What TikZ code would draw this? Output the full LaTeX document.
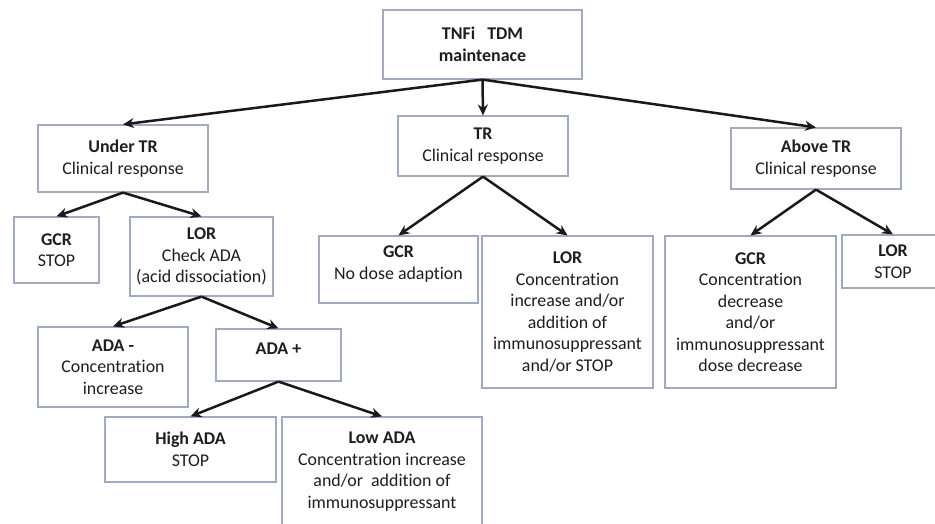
\documentclass[tikz,border=0pt]{standalone}
\usepackage{fontspec}
\setmainfont{Carlito}[Ligatures={NoCommon}]
\usetikzlibrary{arrows.meta}
\definecolor{boxline}{RGB}{160,170,192}
\definecolor{ink}{RGB}{30,30,30}

\begin{document}
\begin{tikzpicture}[x=1pt,y=-1pt,
  box/.style={draw=boxline, line width=1.2pt, fill=white, inner sep=0pt, align=center, text=ink, font=\fontsize{17.9}{21.5}\selectfont},
  arr/.style={-{Stealth[length=11pt,width=10pt]}, line width=2.5pt, black!90}]
\clip (0,0) rectangle (935,523);
% root
\node[box, minimum width=199, minimum height=69] (top) at (482.5,44.5) {\textbf{TNFi\ \ \ TDM}\\\textbf{maintenace}};
% three levels of trough response
\node[box, minimum width=170, minimum height=67] (under) at (123,158.5) {\textbf{Under TR}\\Clinical response};
\node[box, minimum width=170, minimum height=60] (tr) at (483,146) {\textbf{TR}\\Clinical response};
\node[box, minimum width=170, minimum height=61] (above) at (816,158.5) {\textbf{Above TR}\\Clinical response};
% under TR branch
\node[box, minimum width=85, minimum height=66] (ugcr) at (56.5,250) {\textbf{GCR}\\STOP};
\node[box, minimum width=143, minimum height=79] (ulor) at (201.5,256.5) {\textbf{LOR}\\Check ADA\\(acid dissociation)};
\node[box, minimum width=150, minimum height=80] (adaneg) at (113,367) {\textbf{ADA -}\\Concentration\\increase};
\node[box, minimum width=125, minimum height=52, text depth=12pt] (adapos) at (278.5,355) {\textbf{ADA +}};
\node[box, minimum width=171, minimum height=65] (highada) at (190.5,449.5) {\textbf{High ADA}\\STOP};
\node[box, minimum width=200, minimum height=109] (lowada) at (382,471.5) {\textbf{Low ADA}\\Concentration increase\\and/or\ \ addition of\\immunosuppressant};
% TR branch
\node[box, minimum width=159, minimum height=67, text depth=13.5pt] (tgcr) at (398.5,269.5) {\textbf{GCR}\\No dose adaption};
\node[box, minimum width=171, minimum height=152] (tlor) at (567.5,312) {\textbf{LOR}\\Concentration\\increase and/or\\addition of\\immunosuppressant\\and/or STOP};
% above TR branch
\node[box, minimum width=171, minimum height=152] (agcr) at (750.5,312) {\textbf{GCR}\\Concentration\\decrease\\and/or\\immunosuppressant\\dose decrease};
\node[box, minimum width=102, minimum height=53] (alor) at (893,261.5) {\textbf{LOR}\\STOP};
% connectors
\foreach \a/\b in {top/under, top/tr, top/above, under/ugcr, under/ulor, ulor/adaneg, ulor/adapos,
  adapos/highada, adapos/lowada, tr/tgcr, tr/tlor, above/agcr, above/alor}
  \draw[arr] (\a.south) -- (\b.north);
\end{tikzpicture}
\end{document}
